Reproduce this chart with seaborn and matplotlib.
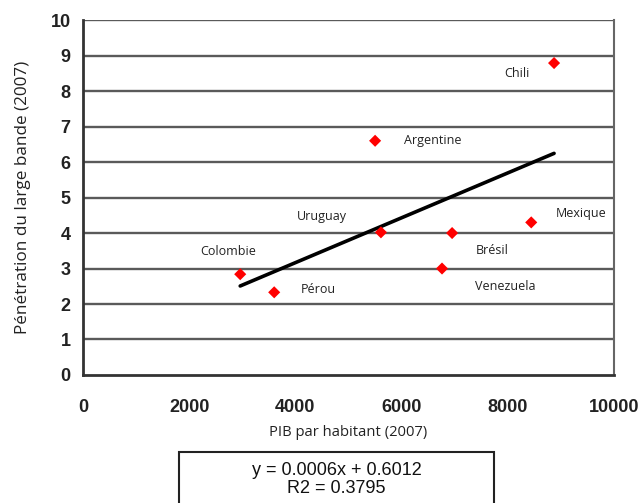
import numpy as np
import pandas as pd
import seaborn as sns
import matplotlib.pyplot as plt

# data
pays = ["Chili", "Argentine", "Uruguay", "Brésil", "Mexique", "Venezuela", "Colombie", "Pérou"]
pib = [8870, 5500, 5610, 6950, 8440, 6760, 2960, 3600]
penetration = [8.79, 6.6, 4.02, 4.0, 4.3, 3.0, 2.84, 2.33]

# label offsets (in data units) relative to each point
label_dx = [-700, 1090, -1110, 750, 940, 1200, -230, 830]
label_dy = [-0.3, 0.0, 0.45, -0.5, 0.25, -0.5, 0.64, 0.07]

df = pd.DataFrame({"pays": pays, "pib": pib, "pen": penetration})

sns.set_style("white")
plt.rcParams["font.family"] = ["Liberation Sans", "DejaVu Sans"]

fig = plt.figure(figsize=(6.41, 5.03), dpi=100)
ax = fig.add_axes([0.1295, 0.2545, 0.8285, 0.7055])

for yv in range(1, 11):
    ax.axhline(yv, color="#5a5a5a", lw=1.7, zorder=1)

sns.regplot(data=df, x="pib", y="pen", scatter=False, ci=None, ax=ax,
            color="black", line_kws={"lw": 2.6, "zorder": 3})
sns.scatterplot(data=df, x="pib", y="pen", marker="D", color="#ff0000",
                s=38, edgecolor="none", ax=ax, zorder=4)

for i, p in enumerate(pays):
    ax.text(pib[i] + label_dx[i], penetration[i] + label_dy[i], p,
            fontsize=9, family="Open Sans", ha="center", va="center",
            color="#222222", zorder=5)

ax.set_xlim(0, 10000)
ax.set_ylim(0, 10)
ax.set_xticks(range(0, 10001, 2000))
ax.set_yticks(range(0, 11))
ax.tick_params(axis="x", length=5, width=1.2, pad=12, labelsize=13, color="#444444")
ax.tick_params(axis="y", length=6, width=1.2, pad=3, labelsize=13, color="#444444")
for lab in ax.get_xticklabels() + ax.get_yticklabels():
    lab.set_fontweight("bold")
    lab.set_color("#222222")

ax.set_xlabel("PIB par habitant (2007)", fontsize=10.6, family="Open Sans",
              labelpad=7, color="#222222")
ax.set_ylabel("Pénétration du large bande (2007)", fontsize=12.3, family="Open Sans",
              labelpad=14, color="#222222")

for side in ["left", "bottom"]:
    ax.spines[side].set_color("#333333")
    ax.spines[side].set_linewidth(2)
ax.spines["right"].set_color("#666666")
ax.spines["right"].set_linewidth(1.5)
ax.spines["top"].set_visible(False)

fig.text(0.525, 0.0656, "y = 0.0006x + 0.6012", ha="center", va="center",
         fontsize=13, color="#111111")
fig.text(0.525, 0.0298, "R2 = 0.3795", ha="center", va="center",
         fontsize=13, color="#111111")
fig.patches.append(plt.Rectangle((0.279, -0.02), 0.491, 0.1214, transform=fig.transFigure,
                                 fill=False, edgecolor="#222222", lw=1.5))

fig.savefig("out.png", dpi=100)
